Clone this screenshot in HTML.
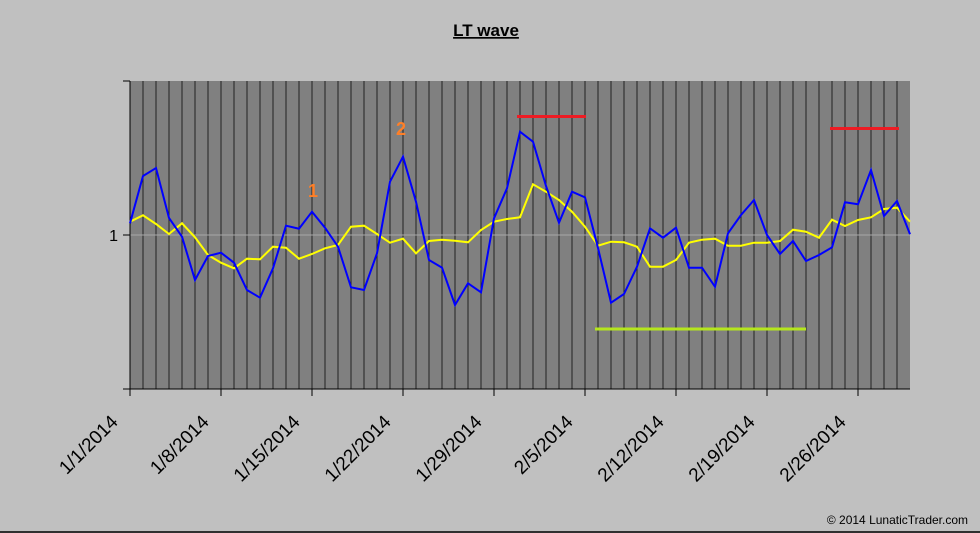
<!DOCTYPE html>
<html><head><style>body{margin:0;background:#c0c0c0}svg{display:block}</style></head>
<body>
<svg width="980" height="533" xmlns="http://www.w3.org/2000/svg" font-family="Liberation Sans, Arial, sans-serif">
<rect x="0" y="0" width="980" height="533" fill="#c0c0c0"/>
<line x1="0" y1="532" x2="980" y2="532" stroke="#000" stroke-width="1.5"/>
<text x="486" y="36" text-anchor="middle" font-size="17" font-weight="bold" text-decoration="underline">LT wave</text>
<rect x="130" y="81" width="780" height="308" fill="#808080"/>
<g id="grid" stroke="#222" stroke-width="1"></g>
<line x1="130" y1="235" x2="910" y2="235" stroke="#a8a8a8" stroke-width="1"/>
<line x1="130" y1="81" x2="130" y2="389" stroke="#000"/>
<line x1="130" y1="389" x2="910" y2="389" stroke="#000"/>
<g stroke="#000"><line x1="123" y1="81" x2="130" y2="81"/><line x1="123" y1="235" x2="130" y2="235"/><line x1="123" y1="389" x2="130" y2="389"/></g>
<text x="118" y="241" text-anchor="end" font-size="16">1</text>
<g id="xt" stroke="#000"></g>
<g id="xl" font-size="19"></g>
<polyline id="yl" fill="none" stroke="#ffff00" stroke-width="2"/>
<polyline id="bl" fill="none" stroke="#0000ff" stroke-width="2"/>
<line x1="517" y1="116.5" x2="586" y2="116.5" stroke="#ee1c24" stroke-width="3"/>
<line x1="830" y1="128.5" x2="899" y2="128.5" stroke="#ee1c24" stroke-width="3"/>
<line x1="595" y1="329" x2="806" y2="329" stroke="#b5e61d" stroke-width="3"/>
<text x="313" y="197" text-anchor="middle" font-size="18" font-weight="bold" fill="#ff7f27">1</text>
<text x="401" y="135" text-anchor="middle" font-size="18" font-weight="bold" fill="#ff7f27">2</text>
<text x="968" y="524" text-anchor="end" font-size="12">© 2014 LunaticTrader.com</text>
</svg>
<script>
var ns="http://www.w3.org/2000/svg";
var g=document.getElementById('grid');
for(var i=1;i<60;i++){var l=document.createElementNS(ns,'line');var x=130+13*i;l.setAttribute('x1',x);l.setAttribute('x2',x);l.setAttribute('y1',81);l.setAttribute('y2',389);g.appendChild(l);}
var labs=["1/1/2014","1/8/2014","1/15/2014","1/22/2014","1/29/2014","2/5/2014","2/12/2014","2/19/2014","2/26/2014"];
var xt=document.getElementById('xt'),xl=document.getElementById('xl');
for(var k=0;k<9;k++){var x=130+91*k;var l=document.createElementNS(ns,'line');l.setAttribute('x1',x);l.setAttribute('x2',x);l.setAttribute('y1',389);l.setAttribute('y2',396);xt.appendChild(l);
var t=document.createElementNS(ns,'text');var ax=x-11,ay=423;t.setAttribute('x',ax);t.setAttribute('y',ay);t.setAttribute('text-anchor','end');t.setAttribute('transform','rotate(-45 '+ax+' '+ay+')');t.textContent=labs[k];xl.appendChild(t);}
var B=[223.3,176,168,218,236.7,280,256,252.7,262.7,290,297.7,268.3,225.7,228.7,211.7,227.7,246.7,287.3,290,253.3,181.7,156.7,201.7,260,267.7,305,283.3,292.3,218.3,188.3,131.7,141.7,186,222.7,191.7,197.3,248,302.7,294,266.7,228.3,237.7,227.7,267.7,267.7,286.7,233.3,215,200,235,254,241,261,255,247.3,202.3,204.3,170,216,201,234.3];
var Y=[221.7,215.3,224,234,223.3,237.3,255,262.7,268.3,258.7,259.3,246.7,247.7,258.7,254,248.3,245,226.7,225.7,234,242.7,238.7,253.3,241,239.7,240.7,242.3,230,221.7,219,217.3,184.3,191.7,200,211.7,226.7,245.7,241.7,242.3,246.7,266.7,266.7,260,242.7,239.7,238.7,245.7,245.7,242.7,242.7,241,229.7,231.7,237.7,219.7,226,220,217.3,209,207.7,221.7];
function pts(a){return a.map(function(v,i){return (130+13*i)+','+v}).join(' ');}
document.getElementById('bl').setAttribute('points',pts(B));
document.getElementById('yl').setAttribute('points',pts(Y));
</script>
</body></html>
